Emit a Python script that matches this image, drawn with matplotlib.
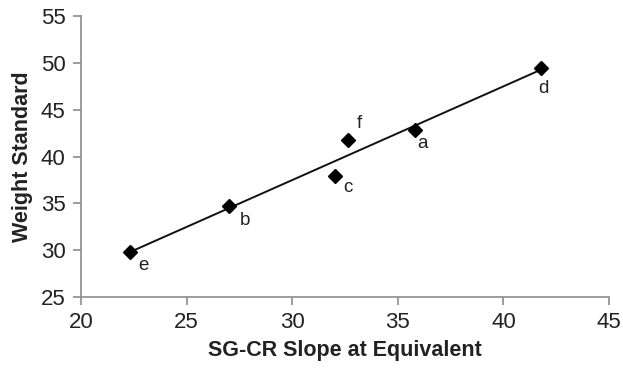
import matplotlib
matplotlib.use("Agg")
import matplotlib.pyplot as plt
import numpy as np

plt.rcParams['font.family'] = ['Liberation Sans', 'DejaVu Sans']

labels = ['a', 'b', 'c', 'd', 'e', 'f']
x_vals = [35.81, 27.02, 32.04, 41.77, 22.32, 32.66]
y_vals = [42.88, 34.75, 37.93, 49.43, 29.80, 41.74]
label_offsets = {'a': (8, -14), 'b': (16, -15), 'c': (13, -12),
                 'd': (3, -20), 'e': (13, -13), 'f': (11, 17)}
x_ticks = [20, 25, 30, 35, 40, 45]
y_ticks = [25, 30, 35, 40, 45, 50, 55]

fig = plt.figure(figsize=(6.23, 3.70), dpi=100)
ax = fig.add_axes([0.130, 0.197, 0.8475, 0.760])

xa = np.array(x_vals)
ya = np.array(y_vals)
slope, intercept = np.polyfit(xa, ya, 1)
xl = np.array([xa.min(), xa.max()])
ax.plot(xl, slope * xl + intercept, color='#111111', lw=1.4, zorder=2)
ax.plot(xa, ya, linestyle='none', marker='D', ms=7, color='black', zorder=3)

for lab, xv, yv in zip(labels, x_vals, y_vals):
    dx, dy = label_offsets[lab]
    ax.annotate(lab, (xv, yv), xytext=(dx, dy), textcoords='offset pixels',
                ha='center', va='center', fontsize=13.5, color='#222222')

ax.set_xlim(20, 45)
ax.set_ylim(25, 55)
ax.set_xticks(x_ticks)
ax.set_yticks(y_ticks)
for s in ['top', 'right']:
    ax.spines[s].set_visible(False)
for s in ['left', 'bottom']:
    ax.spines[s].set_color('#8c8c8c')
    ax.spines[s].set_linewidth(1.2)
ax.tick_params(axis='both', direction='out', length=6, width=1.2, color='#8c8c8c',
               labelsize=16, labelcolor='#222222', pad=5)
ax.set_xlabel('SG-CR Slope at Equivalent', fontsize=15.5, fontweight='bold', color='#222222', labelpad=5)
ax.set_ylabel('Weight Standard', fontsize=15.5, fontweight='bold', color='#222222', labelpad=6)

fig.savefig('out.png', dpi=100)
